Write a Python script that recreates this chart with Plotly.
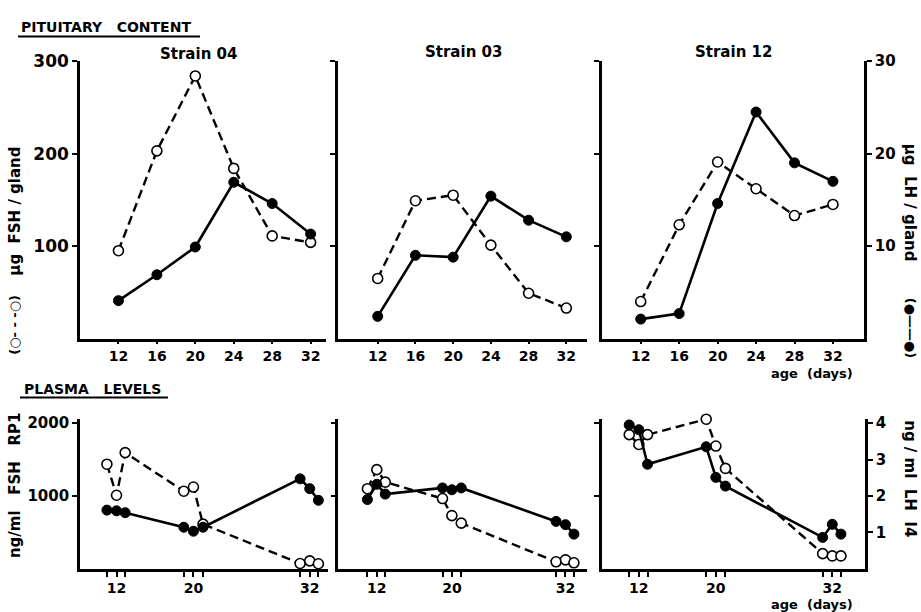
import plotly.graph_objects as go

# ---------------- data ----------------
ages_pit = [12, 16, 20, 24, 28, 32]
pit_ticks = [12, 16, 20, 24, 28, 32]
fsh_pit_04 = [95, 203, 284, 184, 111, 104]
lh_pit_04 = [4.1, 6.9, 9.9, 16.9, 14.6, 11.3]
fsh_pit_03 = [65, 149, 155, 101, 49, 33]
lh_pit_03 = [2.4, 9.0, 8.8, 15.4, 12.8, 11.0]
fsh_pit_12 = [40, 123, 191, 162, 133, 145]
lh_pit_12 = [2.1, 2.7, 14.6, 24.5, 19.0, 17.0]

ages_plasma = [10.8, 11.8, 12.7, 18.8, 19.8, 20.8, 30.9, 31.9, 32.8]
plasma_tick_text = ['', '12', '', '', '20', '', '', '32', '']
fsh_pl_04 = [1436, 1009, 1595, 1064, 1122, 612, 72, 108, 68]
lh_pl_04 = [1.61, 1.59, 1.54, 1.14, 1.03, 1.14, 2.47, 2.20, 1.88]
fsh_pl_03 = [1099, 1361, 1189, 964, 730, 626, 95, 122, 81]
lh_pl_03 = [1.90, 2.32, 2.05, 2.22, 2.17, 2.22, 1.30, 1.21, 0.95]
fsh_pl_12 = [1842, 1707, 1842, 2054, 1685, 1378, 207, 176, 176]
lh_pl_12 = [3.95, 3.82, 2.87, 3.35, 2.51, 2.27, 0.86, 1.22, 0.95]

strains = ['Strain 04', 'Strain 03', 'Strain 12']
pit_fsh_ticks = [100, 200, 300]
pit_lh_ticks = [10, 20, 30]
pl_fsh_ticks = [1000, 2000]
pl_lh_ticks = [1, 2, 3, 4]

W, H = 921, 612
FONT = "DejaVu Sans"
PL_MAX = 2060


def fx(px):
    return px / W


def fy(py):
    return 1 - py / H


fig = go.Figure()

top_fsh = [fsh_pit_04, fsh_pit_03, fsh_pit_12]
top_lh = [lh_pit_04, lh_pit_03, lh_pit_12]
bot_fsh = [fsh_pl_04, fsh_pl_03, fsh_pl_12]
bot_lh = [lh_pl_04, lh_pl_03, lh_pl_12]

top_xdom = [(80, 326), (337.7, 586.7), (601.7, 864)]
bot_xdom = [(80, 328), (338.3, 586.7), (601.7, 865)]
top_xrange = [(8.0, 33.6), (7.76, 34.16), (7.94, 35.23)]
bot_xrange = [(8.0, 33.8), (7.7, 34.16), (7.94, 35.3)]
top_ydom = (fy(334), fy(52))
bot_ydom = (fy(568), fy(568 - PL_MAX * 0.074))


def ax_name(i):
    return '' if i == 1 else str(i)


def add_pair(xi, yl, yr, xs, fsh, lh):
    xa = 'x' + ax_name(xi)
    fig.add_trace(go.Scatter(
        x=xs, y=fsh, xaxis=xa, yaxis='y' + ax_name(yl), mode='lines+markers',
        line=dict(color='black', width=2.4, dash='9px,5px'),
        marker=dict(symbol='circle', size=10, color='white',
                    line=dict(color='black', width=1.6)),
        showlegend=False, cliponaxis=False))
    fig.add_trace(go.Scatter(
        x=xs, y=lh, xaxis=xa, yaxis='y' + ax_name(yr), mode='lines+markers',
        line=dict(color='black', width=2.6),
        marker=dict(symbol='circle', size=10, color='black',
                    line=dict(color='black', width=1)),
        showlegend=False, cliponaxis=False))


layout = {}
for k in range(3):
    # top panel k
    xi = k + 1
    yl = k + 1
    yr = k + 7
    add_pair(xi, yl, yr, ages_pit, top_fsh[k], top_lh[k])
    layout['xaxis' + ax_name(xi)] = dict(
        domain=[fx(top_xdom[k][0]), fx(top_xdom[k][1])],
        range=list(top_xrange[k]), anchor='y' + ax_name(yl),
        showline=True, linewidth=2.6, linecolor='black', showgrid=False,
        zeroline=False, tickmode='array', tickvals=pit_ticks,
        ticktext=[str(t) for t in pit_ticks], ticks='outside', ticklen=3,
        tickwidth=2, tickcolor='black',
        tickfont=dict(family=FONT, size=14, color='black', weight='bold'))
    layout['yaxis' + ax_name(yl)] = dict(
        domain=list(top_ydom), range=[0, 300], anchor='x' + ax_name(xi),
        showline=True, linewidth=2.6, linecolor='black', showgrid=False,
        zeroline=False, tickmode='array', tickvals=pit_fsh_ticks,
        ticktext=[str(t) for t in pit_fsh_ticks], ticks='outside', ticklen=5,
        tickwidth=2, tickcolor='black', showticklabels=(k == 0),
        tickfont=dict(family=FONT, size=17, color='black', weight='bold'))
    layout['yaxis' + ax_name(yr)] = dict(
        range=[0, 30], overlaying='y' + ax_name(yl), anchor='x' + ax_name(xi),
        side='right', visible=(k == 2), showline=True, linewidth=2.6,
        linecolor='black', showgrid=False, zeroline=False, tickmode='array',
        tickvals=pit_lh_ticks, ticktext=[str(t) for t in pit_lh_ticks],
        ticks='outside', ticklen=5, tickwidth=2, tickcolor='black',
        tickfont=dict(family=FONT, size=15, color='black', weight='bold'))

    # bottom panel k
    xi = k + 4
    yl = k + 4
    yr = k + 10
    add_pair(xi, yl, yr, ages_plasma, bot_fsh[k], bot_lh[k])
    layout['xaxis' + ax_name(xi)] = dict(
        domain=[fx(bot_xdom[k][0]), fx(bot_xdom[k][1])],
        range=list(bot_xrange[k]), anchor='y' + ax_name(yl),
        showline=True, linewidth=2.6, linecolor='black', showgrid=False,
        zeroline=False, tickmode='array', tickvals=ages_plasma,
        ticktext=plasma_tick_text, ticks='outside', ticklen=5,
        tickwidth=2, tickcolor='black',
        tickfont=dict(family=FONT, size=14, color='black', weight='bold'))
    layout['yaxis' + ax_name(yl)] = dict(
        domain=list(bot_ydom), range=[0, PL_MAX], anchor='x' + ax_name(xi),
        showline=True, linewidth=2.6, linecolor='black', showgrid=False,
        zeroline=False, tickmode='array', tickvals=pl_fsh_ticks,
        ticktext=[str(t) for t in pl_fsh_ticks], ticks='outside', ticklen=5,
        tickwidth=2, tickcolor='black', showticklabels=(k == 0),
        tickfont=dict(family=FONT, size=15, color='black', weight='bold'))
    layout['yaxis' + ax_name(yr)] = dict(
        range=[0, PL_MAX / 500], overlaying='y' + ax_name(yl),
        anchor='x' + ax_name(xi), side='right', visible=(k == 2),
        showline=True, linewidth=2.6, linecolor='black', showgrid=False,
        zeroline=False, tickmode='array', tickvals=pl_lh_ticks,
        ticktext=[str(t) for t in pl_lh_ticks], ticks='outside', ticklen=5,
        tickwidth=2, tickcolor='black',
        tickfont=dict(family=FONT, size=15, color='black', weight='bold'))

annotations = []


def ann(text, x, y, size=14, angle=0, xanchor='center', yanchor='middle'):
    annotations.append(dict(
        text=text, x=fx(x), y=fy(y), xref='paper', yref='paper',
        showarrow=False, textangle=angle, xanchor=xanchor, yanchor=yanchor,
        font=dict(family=FONT, size=size, color='black', weight='bold')))


NB = '\u00a0'
ann('PITUITARY' + NB * 3 + 'CONTENT', 19, 17, size=14, xanchor='left')
ann('PLASMA' + NB * 3 + 'LEVELS', 22, 385, size=14, xanchor='left')
ann(strains[0], 198, 45, size=15)
ann(strains[1], 463, 43, size=15)
ann(strains[2], 733, 43, size=15)
ann('\u00b5g' + NB * 2 + 'FSH' + NB + '/' + NB + 'gland', 15, 205, size=15, angle=-90)
ann('(\u25cb- - -\u25cb)', 15, 320, size=13, angle=-90)
ann('\u00b5g' + NB * 2 + 'LH' + NB + '/' + NB + 'gland', 910, 196, size=15, angle=90)
ann('(\u25cf\u2014\u2014\u25cf)', 910, 323, size=13, angle=90)
ann('age' + NB * 2 + '(days)', 812, 370, size=13, yanchor='middle')
ann('age' + NB * 2 + '(days)', 812, 604, size=13, yanchor='middle')
ann('ng/ml' + NB * 3 + 'FSH' + NB * 3 + 'RP1', 15, 483, size=15, angle=-90)
ann('ng' + NB + '/' + NB + 'ml' + NB * 2 + 'LH' + NB * 2 + 'I4', 910, 476, size=15, angle=90)

shapes = [
    dict(type='line', xref='paper', yref='paper', x0=fx(18), x1=fx(200),
         y0=fy(27), y1=fy(27), line=dict(color='black', width=2)),
    dict(type='line', xref='paper', yref='paper', x0=fx(20), x1=fx(168),
         y0=fy(394), y1=fy(394), line=dict(color='black', width=2)),
]

fig.update_layout(
    width=W, height=H, margin=dict(l=0, r=0, t=0, b=0),
    paper_bgcolor='white', plot_bgcolor='white',
    annotations=annotations, shapes=shapes, showlegend=False,
    **layout)

fig.write_html("out.html", config={'displayModeBar': False},
               post_script="document.body.style.margin='0';document.body.style.overflow='hidden';")
